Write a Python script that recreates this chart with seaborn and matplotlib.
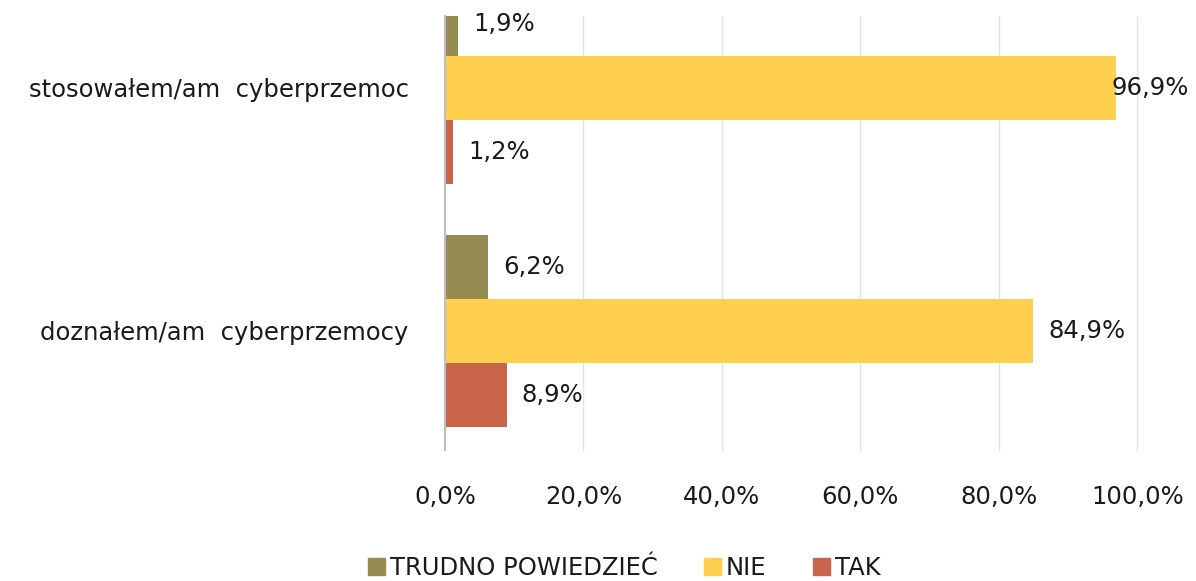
import numpy as np
import pandas as pd
import matplotlib.pyplot as plt
import seaborn as sns

# data
categories = ["stosowałem/am  cyberprzemoc", "doznałem/am  cyberprzemocy"]
answers = ["TRUDNO POWIEDZIEĆ", "NIE", "TAK"]
trudno = [1.9, 6.2]
nie = [96.9, 84.9]
tak = [1.2, 8.9]
colors = ["#968c52", "#ffd04f", "#c9654a"]

rows = []
for i, cat in enumerate(categories):
    rows.append([cat, answers[0], trudno[i]])
    rows.append([cat, answers[1], nie[i]])
    rows.append([cat, answers[2], tak[i]])
df = pd.DataFrame(rows, columns=["kategoria", "odpowiedz", "procent"])

sns.set_style("white")
plt.rcParams['font.family'] = ['DejaVu Sans']

fig = plt.figure(figsize=(11.96, 5.81), dpi=100)
ax = fig.add_axes([0.372, 0.2255, 0.579, 0.747])

sns.barplot(data=df, y="kategoria", x="procent", hue="odpowiedz",
            order=categories, hue_order=answers, palette=colors,
            orient="h", width=0.79, saturation=1, linewidth=0,
            ax=ax, legend=False)

ax.set_xlim(0, 100)
ax.set_ylim(1.49, -0.296)
ax.set_xticks(np.arange(0, 101, 20))
ax.set_xticklabels([f"{v:.1f}".replace(".", ",") + "%" for v in np.arange(0, 101, 20)])
ax.grid(axis="x", color="#e3e3e3", linewidth=1)
for line in ax.get_xgridlines():
    line.set_clip_on(False)
ax.set_axisbelow(True)
for s in ["top", "right", "bottom"]:
    ax.spines[s].set_visible(False)
ax.spines["left"].set_color("#bfbfbf")
ax.spines["left"].set_linewidth(1.5)
ax.tick_params(axis="both", length=0, labelsize=17.5, colors="#1a1a1a")
ax.tick_params(axis="x", pad=25)
ax.tick_params(axis="y", pad=26)
ax.set_xlabel("")
ax.set_ylabel("")

# value labels
pads = {96.9: -3}
for container in ax.containers:
    for bar in container:
        w = bar.get_width()
        y = bar.get_y() + bar.get_height() / 2
        ax.annotate(f"{w:.1f}".replace(".", ",") + "%", (w, y),
                    xytext=(pads.get(w, 11), 0), textcoords="offset points",
                    va="center", ha="left", fontsize=17.5, color="#1a1a1a",
                    annotation_clip=False)

handles = [plt.Rectangle((0, 0), 1, 1, color=c) for c in colors]
fig.legend(handles, answers, loc="center", bbox_to_anchor=(0.522, 0.022),
           ncol=3, frameon=False, fontsize=17.5, handlelength=0.7,
           handleheight=0.7, handletextpad=0.2, columnspacing=1.9,
           labelcolor="#1a1a1a")

fig.savefig("out.png", dpi=100)
